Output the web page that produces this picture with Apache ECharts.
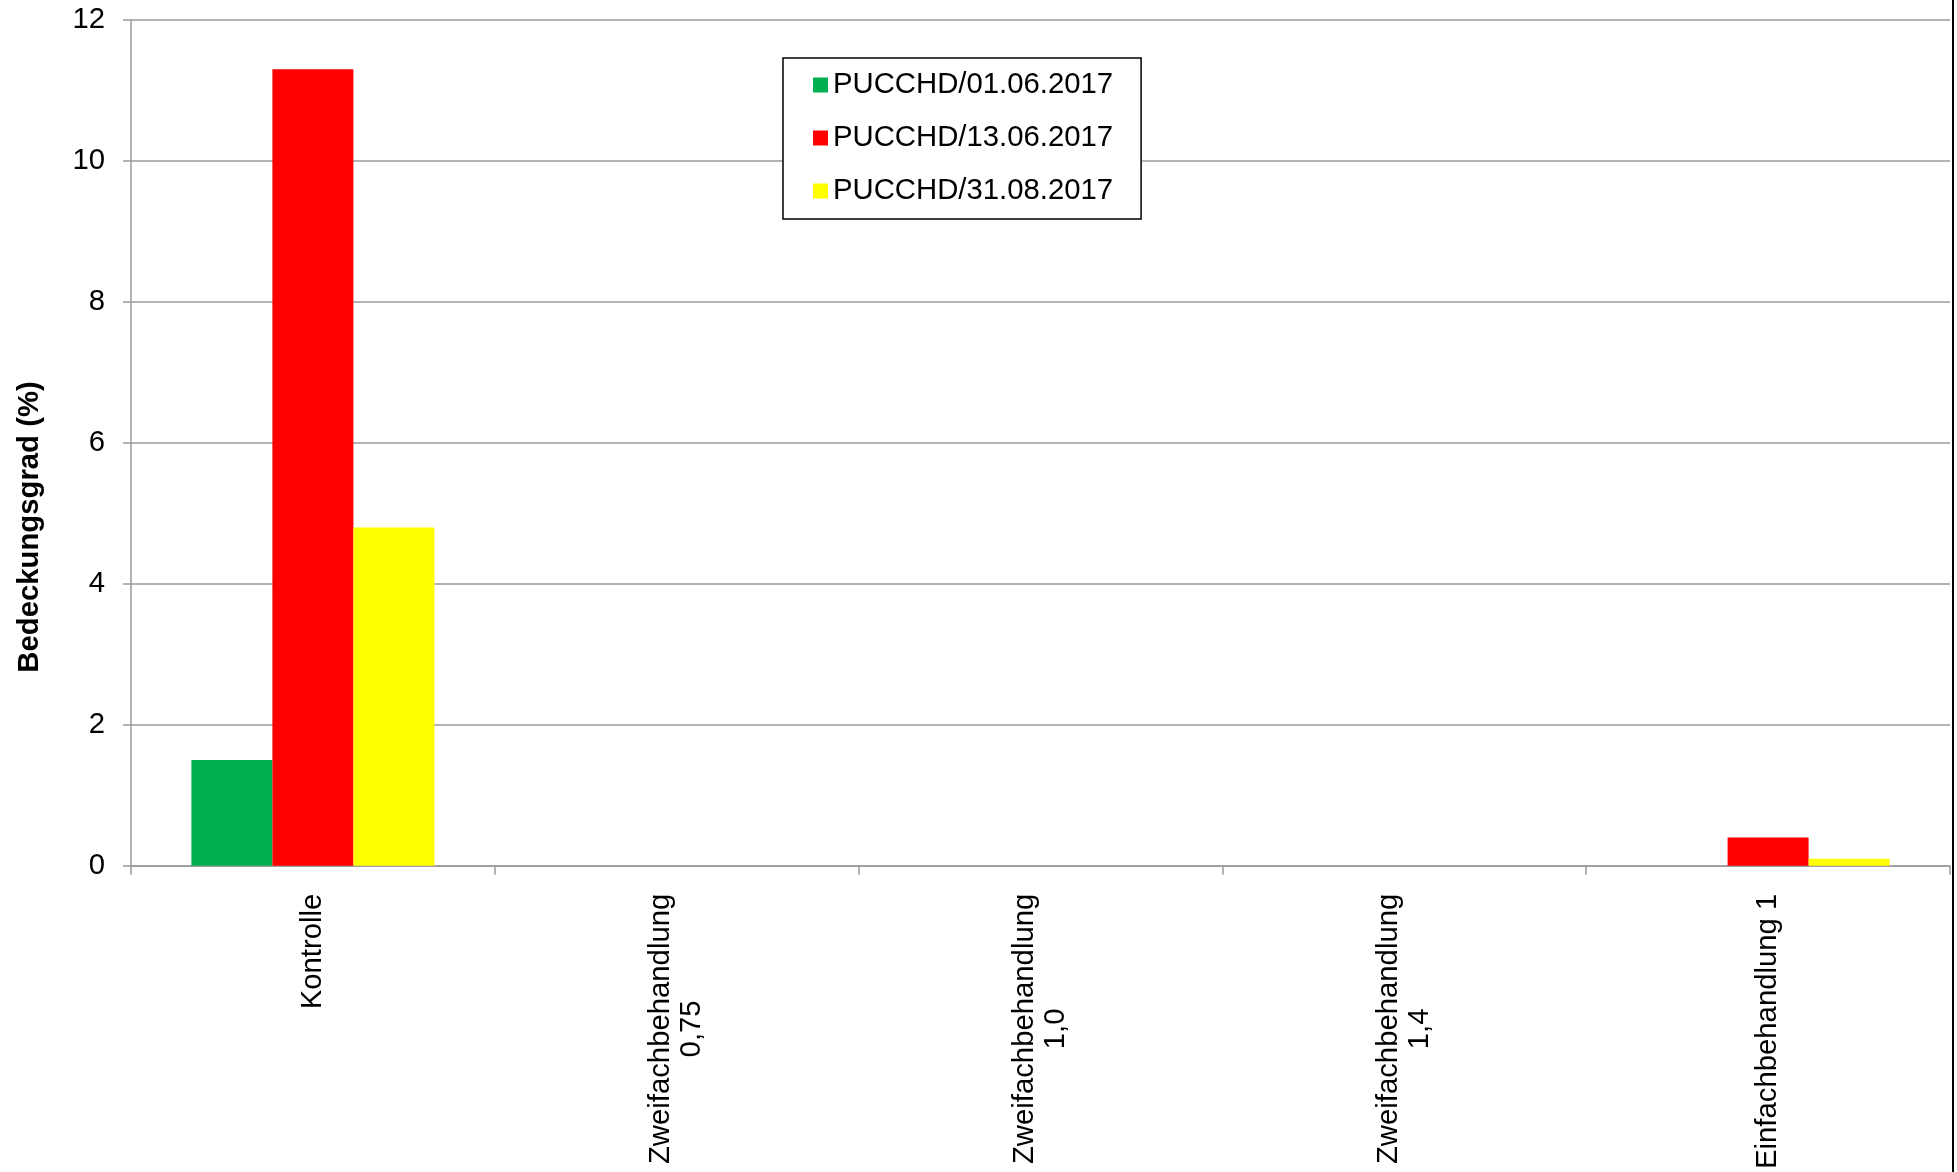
<!DOCTYPE html>
<html>
<head>
<meta charset="utf-8">
<title>Bedeckungsgrad PUCCHD</title>
<script src="https://cdn.jsdelivr.net/npm/echarts@6/dist/echarts.min.js"></script>
<style>
  html, body { margin: 0; padding: 0; background: #fff; }
  #chart { width: 1957px; height: 1172px; }
</style>
</head>
<body>
<div id="chart"></div>
<script>
// Treatments on the category axis
const categories = [
  'Kontrolle',
  'Zweifachbehandlung\n0,75',
  'Zweifachbehandlung\n1,0',
  'Zweifachbehandlung\n1,4',
  'Einfachbehandlung 1'
];

// Rating dates (series names)
const seriesNames = ['PUCCHD/01.06.2017', 'PUCCHD/13.06.2017', 'PUCCHD/31.08.2017'];

// Bedeckungsgrad (%) per treatment and rating date
const values0106 = [1.5, 0, 0, 0, 0];
const values1306 = [11.3, 0, 0, 0, 0.4];
const values3108 = [4.8, 0, 0, 0, 0.1];

// Value axis ticks
const yMin = 0;
const yMax = 12;
const yStep = 2;

const seriesColors = ['#00b050', '#ff0000', '#ffff00'];
const FONT = "'Liberation Sans', Arial, Helvetica, sans-serif";
const FS = 29.3;
const AXIS_GREY = '#9a9a9a';

const chart = echarts.init(document.getElementById('chart'), null, { renderer: 'canvas' });

const seriesData = [values0106, values1306, values3108];

const option = {
  backgroundColor: '#ffffff',
  animation: false,
  textStyle: { fontFamily: FONT, color: '#000' },
  grid: { left: 131, right: 7, top: 20, bottom: 305, containLabel: false },
  legend: {
    orient: 'vertical',
    left: 783,
    top: 58,
    data: seriesNames,
    icon: 'rect',
    itemWidth: 15,
    itemHeight: 15,
    itemGap: 23,
    padding: [12, 28, 13, 30],
    borderColor: '#000',
    borderWidth: 1.5,
    backgroundColor: '#fff',
    selectedMode: false,
    textStyle: { fontFamily: FONT, fontSize: FS, color: '#000', lineHeight: 30 }
  },
  xAxis: {
    type: 'category',
    data: categories,
    axisLine: { show: true, lineStyle: { color: AXIS_GREY, width: 1.5 } },
    axisTick: { show: true, length: 9, lineStyle: { color: AXIS_GREY, width: 1.5 } },
    axisLabel: {
      interval: 0,
      rotate: 90,
      margin: 28,
      color: '#000',
      fontFamily: FONT,
      fontSize: FS,
      formatter: function (v) {
        return v.split('\n').map(function (l) { return '{c|' + l + '}'; }).join('\n');
      },
      rich: {
        c: { fontFamily: FONT, fontSize: FS, lineHeight: 31, align: 'center', color: '#000' }
      }
    },
    splitLine: { show: false }
  },
  yAxis: {
    type: 'value',
    min: yMin,
    max: yMax,
    interval: yStep,
    axisLine: { show: true, lineStyle: { color: AXIS_GREY, width: 1.5 } },
    axisTick: { show: true, length: 8, lineStyle: { color: AXIS_GREY, width: 1.5 } },
    axisLabel: { color: '#000', fontFamily: FONT, fontSize: FS, margin: 26 },
    splitLine: { show: true, lineStyle: { color: AXIS_GREY, width: 1.5 } }
  },
  series: seriesNames.map(function (name, i) {
    return {
      name: name,
      type: 'bar',
      data: seriesData[i],
      barGap: '0%',
      barCategoryGap: '33.2%',
      itemStyle: { color: seriesColors[i] },
      emphasis: { disabled: true }
    };
  }),
  graphic: [
    {
      type: 'text',
      x: 30,
      y: 527,
      rotation: Math.PI / 2,
      style: {
        text: 'Bedeckungsgrad (%)',
        fontFamily: FONT,
        fontSize: FS,
        fontWeight: 'bold',
        fill: '#000',
        align: 'center',
        verticalAlign: 'middle'
      }
    },
    {
      type: 'line',
      shape: { x1: 1953, y1: 0, x2: 1953, y2: 1172 },
      style: { stroke: '#000', lineWidth: 2 }
    }
  ]
};

chart.setOption(option);
</script>
</body>
</html>
